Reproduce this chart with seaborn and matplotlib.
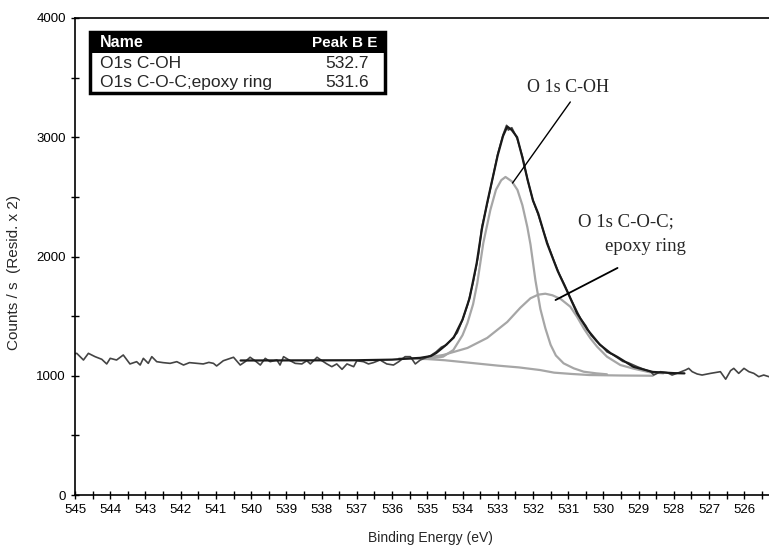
import numpy as np
import pandas as pd
import seaborn as sns
import matplotlib.pyplot as plt
from matplotlib.patches import Rectangle
from matplotlib.ticker import MultipleLocator

# raw spectrum (noisy)
raw_be = [545.0, 544.95, 544.76, 544.62, 544.43, 544.24, 544.10, 544.0, 543.82, 543.63,
          543.44, 543.25, 543.15, 543.06, 542.92, 542.82, 542.68, 542.5, 542.30, 542.11,
          541.92, 541.75, 541.54, 541.36, 541.2, 541.07, 540.98, 540.79, 540.50, 540.31,
          540.17, 540.03, 539.89, 539.74, 539.60, 539.46, 539.27, 539.18, 539.08, 538.89,
          538.75, 538.56, 538.42, 538.32, 538.13, 537.99, 537.85, 537.71, 537.57, 537.42,
          537.28, 537.09, 537.0, 536.81, 536.67, 536.53, 536.34, 536.15, 535.96, 535.81,
          535.63, 535.48, 535.34, 535.20,
          535.05, 534.9, 534.75, 534.6, 534.45, 534.3, 534.15, 534.0, 533.85, 533.7,
          533.55, 533.45, 533.3, 533.15, 533.0, 532.85, 532.75, 532.7, 532.6, 532.45,
          532.3, 532.15, 532.0, 531.85, 531.7, 531.55, 531.4, 531.25, 531.1, 530.95,
          530.8, 530.65, 530.5, 530.35, 530.2, 530.05, 529.9, 529.75, 529.6, 529.45,
          529.3,
          529.04, 528.85, 528.66, 528.57, 528.38, 528.19, 528.05, 527.86, 527.67, 527.58,
          527.48, 527.34, 527.20, 526.96, 526.68, 526.53, 526.39, 526.30, 526.16, 526.01,
          525.87, 525.73, 525.59, 525.45, 525.30]
raw_cps = [1185, 1188, 1132, 1188, 1160, 1138, 1099, 1146, 1132, 1174,
           1099, 1118, 1090, 1146, 1104, 1160, 1118, 1110, 1104, 1118,
           1090, 1110, 1104, 1099, 1112, 1104, 1082, 1126, 1155, 1090,
           1118, 1155, 1126, 1090, 1146, 1118, 1132, 1090, 1160, 1126,
           1104, 1099, 1126, 1099, 1155, 1126, 1099, 1076, 1099, 1054,
           1099, 1076, 1126, 1118, 1099, 1110, 1132, 1099, 1090, 1118,
           1160, 1160, 1099, 1132,
           1150, 1170, 1200, 1240, 1260, 1310, 1360, 1470, 1600, 1780,
           2010, 2250, 2440, 2650, 2860, 3020, 3100, 3060, 3080, 2990,
           2840, 2640, 2470, 2350, 2210, 2080, 1960, 1850, 1760, 1660,
           1570, 1480, 1420, 1340, 1290, 1250, 1200, 1180, 1150, 1120,
           1110,
           1076, 1054, 1034, 1006, 1034, 1026, 1006, 1026, 1048, 1062,
           1034, 1015, 1006, 1020, 1034, 971, 1043, 1062, 1020, 1062,
           1034, 1020, 992, 1006, 992]

# fitted envelope
env_be = [540.3, 537.0, 536.0, 535.5, 535.2, 534.9, 534.75, 534.5, 534.25, 534.0,
          533.8, 533.6, 533.45, 533.3, 533.15, 533.0, 532.85, 532.73, 532.6, 532.45,
          532.3, 532.15, 532.0, 531.85, 531.6, 531.3, 531.0, 530.75, 530.45, 530.1,
          529.8, 529.6, 529.15, 528.6, 528.0, 527.7]
env_cps = [1128, 1130, 1135, 1145, 1150, 1165, 1190, 1250, 1320, 1470,
           1650, 1940, 2230, 2450, 2650, 2850, 3010, 3090, 3060, 3000,
           2830, 2640, 2470, 2360, 2110, 1880, 1690, 1525, 1385, 1260,
           1190, 1157, 1075, 1032, 1022, 1020]

# O 1s C-OH component
coh_be = [535.2, 534.8, 534.55, 534.26, 534.0, 533.86, 533.7, 533.58, 533.41, 533.21,
          533.05, 532.9, 532.78, 532.6, 532.44, 532.3, 532.16, 532.07, 531.93, 531.79,
          531.65, 531.5, 531.35, 531.13, 530.84, 530.56, 530.2, 529.9]
coh_cps = [1140, 1150, 1160, 1216, 1340, 1442, 1600, 1778, 2113, 2390,
           2560, 2640, 2667, 2630, 2558, 2430, 2247, 2100, 1800, 1560,
           1400, 1260, 1170, 1104, 1062, 1034, 1020, 1012]

# O 1s C-O-C component
coc_be = [535.2, 534.55, 533.86, 533.3, 532.73, 532.36, 532.07, 531.85, 531.65, 531.45,
          531.22, 530.94, 530.75, 530.56, 530.37, 530.18, 529.9, 529.52, 529.15, 528.7,
          528.3]
coc_cps = [1145, 1174, 1233, 1317, 1451, 1570, 1650, 1680, 1688, 1675,
           1645, 1579, 1495, 1398, 1314, 1244, 1160, 1090, 1060, 1030,
           1020]

# background
bg_be = [535.8, 535.0, 534.5, 534.0, 533.5, 533.0, 532.4, 531.8, 531.4, 530.9,
         530.4, 529.5, 528.6]
bg_cps = [1145, 1140, 1130, 1115, 1100, 1085, 1070, 1048, 1026, 1015,
          1006, 1002, 1000]

table_names = ['O1s C-OH', 'O1s C-O-C;epoxy ring']
table_peaks = ['532.7', '531.6']

sns.set_style('ticks')
plt.rcParams['font.family'] = ['Liberation Sans', 'DejaVu Sans']

W, H = 769, 546
fig = plt.figure(figsize=(W / 100, H / 100), dpi=100)
ax = fig.add_axes([75 / W, 1 - 495 / H, 1 - 75 / W, (495 - 18) / H])

def px(x, y):
    return x / W, 1 - y / H

gray = '#a6a6a6'
sns.lineplot(x=bg_be, y=bg_cps, ax=ax, color=gray, lw=1.6, estimator=None)
sns.lineplot(x=coc_be, y=coc_cps, ax=ax, color=gray, lw=1.6, estimator=None)
sns.lineplot(x=coh_be, y=coh_cps, ax=ax, color=gray, lw=1.6, estimator=None)
sns.lineplot(x=raw_be, y=raw_cps, ax=ax, color='#444444', lw=1.2, estimator=None)
sns.lineplot(x=env_be, y=env_cps, ax=ax, color='#1a1a1a', lw=1.6, estimator=None)

ax.set_xlim(545, 525.3)
ax.set_ylim(0, 4000)
ax.xaxis.set_major_locator(MultipleLocator(1))
ax.xaxis.set_minor_locator(MultipleLocator(0.5))
ax.yaxis.set_major_locator(MultipleLocator(1000))
ax.yaxis.set_minor_locator(MultipleLocator(500))
ax.tick_params(which='both', direction='inout', length=6, width=1, labelsize=9.5,
               colors='black', top=False, right=False)
for s in ['left', 'bottom', 'top']:
    ax.spines[s].set_color('black')
    ax.spines[s].set_linewidth(1.2)
ax.spines['right'].set_visible(False)
ax.set_xlabel('Binding Energy (eV)', fontsize=10)
ax.set_ylabel('Counts / s  (Resid. x 2)', fontsize=11)
ax.xaxis.set_label_coords((430 - 75) / 694, (495 - 538) / 477)
ax.yaxis.set_label_coords((14 - 75) / 694, (495 - 272) / 477)
ax.xaxis.label.set_va('center')
ax.yaxis.label.set_va('center')

# annotations
serif = ['Liberation Serif', 'DejaVu Serif']
ax.text(531.0, 3421, 'O 1s C-OH', ha='center', va='center', fontsize=13, family=serif)
ax.annotate('', xy=(532.58, 2616), xytext=(530.94, 3296),
            arrowprops=dict(arrowstyle='-', color='black', lw=1,
                            shrinkA=0, shrinkB=0))
ax.text(530.71, 2289, 'O 1s C-O-C;', ha='left', va='center', fontsize=13.5, family=serif)
ax.text(527.67, 2080, 'epoxy ring', ha='right', va='center', fontsize=13.5, family=serif)
ax.annotate('', xy=(531.36, 1635), xytext=(529.6, 1904),
            arrowprops=dict(arrowstyle='-', color='black', lw=1.3,
                            shrinkA=0, shrinkB=0))

# peak table
x0, y0, x1, y1 = 90, 32, 385, 93
fig.patches.append(Rectangle(px(x0, y1), (x1 - x0) / W, (y1 - y0) / H,
                             transform=fig.transFigure, facecolor='white',
                             edgecolor='black', lw=2.5, zorder=5))
fig.patches.append(Rectangle(px(x0, 53), (x1 - x0) / W, (53 - y0) / H,
                             transform=fig.transFigure, facecolor='black',
                             edgecolor='black', lw=0, zorder=6))
fig.text(*px(100, 43), 'Name', color='white', fontsize=11.5, weight='bold',
         ha='left', va='center', zorder=7)
fig.text(*px(377, 43), 'Peak B E', color='white', fontsize=11, weight='bold',
         ha='right', va='center', zorder=7)
for i, (n, p) in enumerate(zip(table_names, table_peaks)):
    yy = 63 + i * 19.5
    fig.text(*px(100, yy), n, fontsize=12.5, ha='left', va='center', zorder=7)
    fig.text(*px(369, yy), p, fontsize=12.5, ha='right', va='center', zorder=7)

fig.savefig('out.png', dpi=100)
